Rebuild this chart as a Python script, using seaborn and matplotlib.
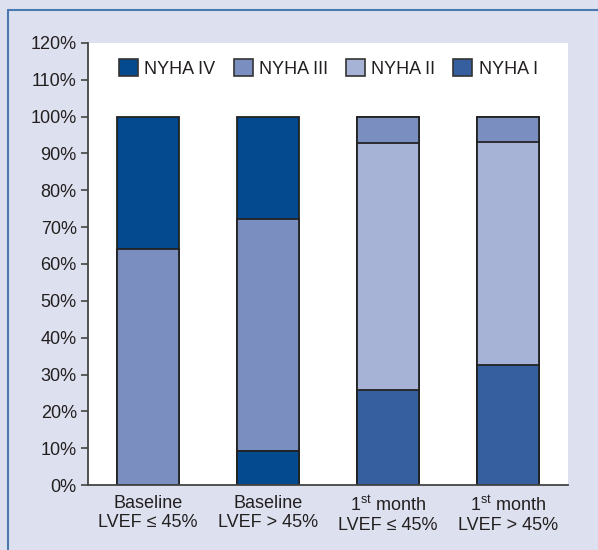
import matplotlib
matplotlib.use("Agg")
import matplotlib.pyplot as plt
import seaborn as sns
import pandas as pd
from matplotlib.patches import Patch
from matplotlib.lines import Line2D

categories = ["Baseline\nLVEF \u2264 45%", "Baseline\nLVEF > 45%",
              "1$^{\\mathrm{st}}$ month\nLVEF \u2264 45%", "1$^{\\mathrm{st}}$ month\nLVEF > 45%"]
nyha_i = [0.0, 9.3, 25.8, 32.6]
nyha_ii = [0.0, 0.0, 67.1, 60.6]
nyha_iii = [64.2, 63.0, 7.1, 6.8]
nyha_iv = [35.8, 27.7, 0.0, 0.0]
series_names = ["NYHA IV", "NYHA III", "NYHA II", "NYHA I"]
yticks = list(range(0, 121, 10))

colors = {"NYHA IV": "#034a8f", "NYHA III": "#7a8ec0", "NYHA II": "#a7b3d6", "NYHA I": "#355f9f"}
bottom_bar_colors = ["#355f9f", "#034a8f", "#355f9f", "#355f9f"]

sns.set_style("white")
plt.rcParams['font.family'] = ['Liberation Sans', 'DejaVu Sans']
plt.rcParams['mathtext.fontset'] = 'custom'
plt.rcParams['mathtext.rm'] = 'Liberation Sans'

fig = plt.figure(figsize=(5.98, 5.5), dpi=100, facecolor="#dde1ef")
ax = fig.add_axes([0.147, 0.118, 0.803, 0.804])
ax.set_facecolor("white")

cum_i = nyha_i
cum_ii = [a + b for a, b in zip(cum_i, nyha_ii)]
cum_iii = [a + b for a, b in zip(cum_ii, nyha_iii)]
cum_iv = [a + b for a, b in zip(cum_iii, nyha_iv)]

layers = [(cum_iv, [colors["NYHA IV"]] * 4),
          (cum_iii, [colors["NYHA III"]] * 4),
          (cum_ii, [colors["NYHA II"]] * 4),
          (cum_i, bottom_bar_colors)]
for vals, cols in layers:
    df = pd.DataFrame({"cat": categories, "val": vals})
    sns.barplot(data=df, x="cat", y="val", hue="cat", palette=cols, legend=False,
                width=0.51, edgecolor="#222222", linewidth=1.3, ax=ax, saturation=1)

ax.set_ylim(0, 120)
ax.set_xlim(-0.5, 3.5)
ax.set_yticks(yticks)
ax.set_yticklabels([f"{t}%" for t in yticks], fontsize=13, color="#231f20")
ax.tick_params(axis="y", which="both", left=True, length=5, width=1.2, color="#444444", pad=3)
ax.tick_params(axis="x", length=0, labelsize=13, labelcolor="#231f20", pad=7)
ax.set_xlabel("")
ax.set_ylabel("")
for s in ["top", "right"]:
    ax.spines[s].set_visible(False)
for s in ["left", "bottom"]:
    ax.spines[s].set_color("#444444")
    ax.spines[s].set_linewidth(1.3)

handles = [Patch(facecolor=colors[n], edgecolor="#333333", linewidth=1.2) for n in series_names]
leg = ax.legend(handles, series_names, loc="upper left", bbox_to_anchor=(0.065, 0.963),
                ncol=4, frameon=False, fontsize=13, handlelength=1.05, handleheight=1.05,
                columnspacing=1.0, handletextpad=0.35, labelcolor="#231f20",
                borderpad=0, borderaxespad=0)

fig.add_artist(Line2D([8 / 598, 1], [1 - 10 / 550, 1 - 10 / 550], color="#4a78b0", lw=1.5,
                      transform=fig.transFigure))
fig.add_artist(Line2D([8 / 598, 8 / 598], [0, 1 - 10 / 550], color="#4a78b0", lw=1.5,
                      transform=fig.transFigure))

fig.savefig("out.png", dpi=100, facecolor=fig.get_facecolor())
